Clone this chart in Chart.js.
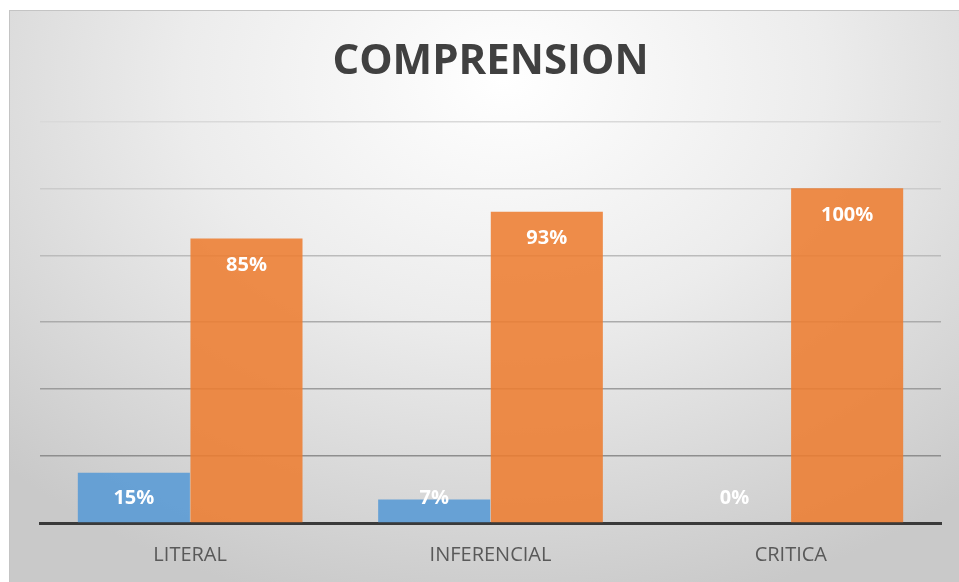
<!DOCTYPE html>
<html>
<head>
<meta charset="utf-8">
<script src="https://cdn.jsdelivr.net/npm/chart.js@4"></script>
<style>
  html, body { margin: 0; padding: 0; background: #fff; }
  #frame {
    position: absolute; left: 9px; top: 10px; width: 950px; height: 572px;
    background: radial-gradient(ellipse 75% 95% at 52% 12%, #ffffff 0%, #ececec 45%, #d6d6d6 80%, #c9c9c9 100%);
    border-top: 1px solid #c4c4c4; border-left: 1px solid #c4c4c4;
  }
  #wrap { position: absolute; left: 0; top: 0; width: 959px; height: 582px; }
</style>
</head>
<body>
<div id="frame"></div>
<div id="wrap"><canvas id="chart" width="959" height="582"></canvas></div>
<script>
// -------------------- Data --------------------
const categories = ["LITERAL", "INFERENCIAL", "CRITICA"];
const serieA = [15, 7, 0];
const serieB = [85, 93, 100];

// white labels drawn inside the top of each bar
const barLabels = {
    id: 'barLabels',
    afterDatasetsDraw(chart) {
        const ctx = chart.ctx;
        ctx.save();
        ctx.font = "bold 20px 'Open Sans'";
        ctx.fillStyle = "#ffffff";
        ctx.textAlign = "center";
        ctx.textBaseline = "middle";
        chart.data.datasets.forEach((ds, i) => {
            chart.getDatasetMeta(i).data.forEach((bar, j) => {
                const y = Math.min(bar.y + 27, 498);
                ctx.fillText(ds.data[j] + "%", bar.x, y);
            });
        });
        ctx.restore();
    }
};

const gridColors = ["rgba(0,0,0,0)", "#8e8e8e", "#9c9c9c", "#ababab", "#bbbbbb", "#cbcbcb", "#d9d9d9"];

new Chart(document.getElementById('chart').getContext('2d'), {
    type: 'bar',
    data: {
        labels: categories,
        datasets: [
            { label: 'A', data: serieA, backgroundColor: 'rgba(91,155,213,0.9)' },
            { label: 'B', data: serieB, backgroundColor: 'rgba(237,125,49,0.88)' }
        ]
    },
    options: {
        responsive: false,
        animation: false,
        layout: { padding: { left: 40, right: 18, top: 0, bottom: 18 } },
        datasets: { bar: { categoryPercentage: 0.75, barPercentage: 0.995 } },
        plugins: {
            legend: { display: false },
            tooltip: { enabled: false },
            title: {
                display: true,
                text: 'COMPRENSION',
                color: '#404040',
                font: { family: "'Open Sans'", size: 42, weight: 'bold' },
                padding: { top: 37, bottom: 34 }
            }
        },
        scales: {
            x: {
                grid: { display: false, drawTicks: false },
                border: { display: true, color: '#3a3a3a', width: 3 },
                ticks: { color: '#595959', font: { family: "'Open Sans'", size: 20 }, padding: 20 },
                afterFit: s => { s.height = 41; }
            },
            y: {
                min: 0, max: 120,
                ticks: { display: false, stepSize: 20 },
                grid: { drawTicks: false, lineWidth: 1.5, color: c => gridColors[c.index] || '#cccccc' },
                border: { display: false }
            }
        }
    },
    plugins: [barLabels]
});
</script>
</body>
</html>
